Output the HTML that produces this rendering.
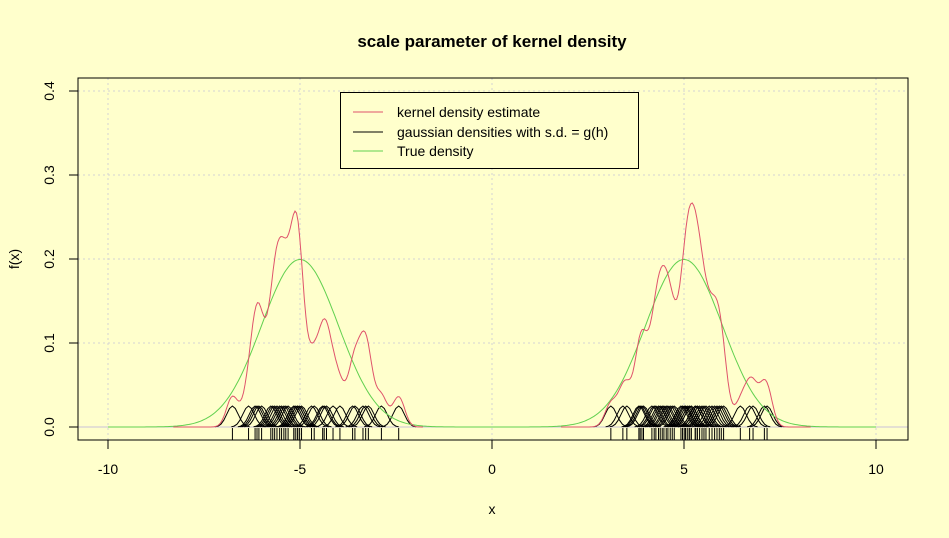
<!DOCTYPE html>
<html><head><meta charset="utf-8"><style>
body{margin:0;background:#FFFFCC;}
svg{display:block;font-family:"Liberation Sans",Arial,sans-serif;}
</style></head><body>
<svg id="chart" width="949" height="538" xmlns="http://www.w3.org/2000/svg">
<rect width="949" height="538" fill="#FFFFCC"/>
<text x="492" y="47" text-anchor="middle" font-size="17" font-weight="bold">scale parameter of kernel density</text>
<text x="492" y="514" text-anchor="middle" font-size="14">x</text>
<text transform="translate(19,259) rotate(-90)" text-anchor="middle" font-size="14">f(x)</text>
<g id="grid"></g>
<g id="axes"></g>
<g id="marks"></g>
<rect x="78" y="78" width="830" height="362" fill="none" stroke="#000"/>
<g>
<rect x="340.5" y="92.5" width="298" height="76" fill="#FFFFCC" stroke="#000"/>
<line x1="353" y1="112" x2="383" y2="112" stroke="#DF536B"/>
<text x="397" y="117" font-size="14">kernel density estimate</text>
<line x1="353" y1="132" x2="383" y2="132" stroke="#000"/>
<text x="397" y="137" font-size="14">gaussian densities with s.d. = g(h)</text>
<line x1="353" y1="151" x2="383" y2="151" stroke="#61D04F"/>
<text x="397" y="156" font-size="14">True density</text>
</g>
</svg>
<script>
const leftSample=[-6.76,-6.34,-6.17,-6.12,-6.07,-6.00,-5.76,-5.71,-5.66,-5.60,-5.53,-5.48,-5.42,-5.37,-5.31,-5.16,-5.16,-5.11,-5.06,-5.06,-5.01,-4.96,-4.70,-4.63,-4.41,-4.37,-4.31,-4.14,-3.96,-3.63,-3.57,-3.36,-3.29,-3.22,-2.88,-2.43];
const rightSample=[3.095,3.408,3.512,3.825,3.859,3.904,3.945,4.164,4.224,4.268,4.336,4.381,4.433,4.477,4.537,4.581,4.641,4.694,4.746,4.920,4.962,5.006,5.040,5.085,5.137,5.137,5.189,5.189,5.293,5.293,5.346,5.346,5.406,5.468,5.520,5.572,5.658,5.729,5.797,5.859,5.919,5.971,6.031,6.467,6.709,6.798,7.093,7.163];
const xTicks=[-10,-5,0,5,10];
const yTicks=[0,0.1,0.2,0.3,0.4];
const kernelSd=0.15, kdeSd=0.155, smallPeak=0.025;
const NS="http://www.w3.org/2000/svg";
const X=v=>492+v*38.4, Y=v=>427-v*840;
function mk(tag,attrs,parent){const e=document.createElementNS(NS,tag);for(const k in attrs)e.setAttribute(k,attrs[k]);parent.appendChild(e);return e;}
const grid=document.getElementById('grid'),axes=document.getElementById('axes'),marks=document.getElementById('marks');
xTicks.forEach(t=>{
 let l=mk('line',{x1:X(t),x2:X(t),y1:78,y2:440,stroke:'#D3D3D3','stroke-dasharray':'2,3'},grid);
 
 
 let k=mk('line',{x1:X(t),x2:X(t),y1:440,y2:449,stroke:'#000'},axes);
 
 
 let tx=mk('text',{x:X(t),y:474,'text-anchor':'middle','font-size':'14'},axes);tx.textContent=String(t);
 
 
});
yTicks.forEach(t=>{
 let l=mk('line',{x1:78,x2:908,y1:Y(t),y2:Y(t),stroke:'#D3D3D3','stroke-dasharray':'2,3'},grid);
 
 
 let k=mk('line',{x1:69,x2:78,y1:Y(t),y2:Y(t),stroke:'#000'},axes);
 
 
 let tx=mk('text',{transform:`translate(54,${Y(t)}) rotate(-90)`,'text-anchor':'middle','font-size':'14'},axes);tx.textContent=t.toFixed(1);
 
 
});
let zl=mk('line',{x1:78,x2:908,y1:Y(0),y2:Y(0),stroke:'#C8C0D8'},grid);


const dn=(x,m,s)=>Math.exp(-0.5*((x-m)/s)**2)/(s*Math.sqrt(2*Math.PI));
function path(f,a,b,stroke,name,n){n=n||400;let d='';for(let i=0;i<=n;i++){const x=a+(b-a)*i/n;d+=(i?'L':'M')+X(x).toFixed(1)+','+Y(f(x)).toFixed(1);}
 const p=mk('path',{d,fill:'none',stroke,'stroke-width':'1'},marks);
 
 }
[...leftSample,...rightSample].forEach(m=>{
 path(x=>smallPeak*Math.exp(-0.5*((x-m)/kernelSd)**2),m-3*kernelSd,m+3*kernelSd,'#000','gaussian-kernel',12);
});
path(x=>0.5*dn(x,-5,1)+0.5*dn(x,5,1),-10,10,'#61D04F','true-density');
function kde(s){return x=>s.reduce((a,m)=>a+dn(x,m,kdeSd),0)*0.5/s.length;}
path(kde(leftSample),-8.3,-1.8,'#DF536B','kde-left',160);
path(kde(rightSample),1.8,8.3,'#DF536B','kde-right',160);
[...leftSample,...rightSample].forEach(m=>{
 const r=mk('line',{x1:X(m),x2:X(m),y1:428,y2:440,stroke:'#000'},marks);
 
 
});
</script>
</body></html>
